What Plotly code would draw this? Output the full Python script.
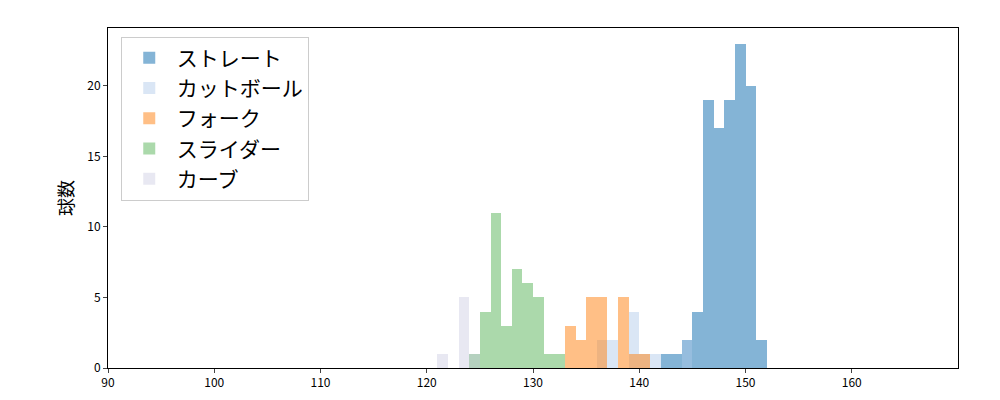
import plotly.graph_objects as go

straight_x = [142, 143, 144, 145, 146, 147, 148, 149, 150, 151]
straight_y = [1, 1, 2, 4, 19, 17, 19, 23, 20, 2]
cut_x = [136, 137, 139, 140, 141, 144]
cut_y = [2, 2, 4, 1, 1, 2]
fork_x = [133, 134, 135, 136, 138, 139, 140]
fork_y = [3, 2, 5, 5, 5, 1, 1]
slider_x = [124, 125, 126, 127, 128, 129, 130, 131, 132]
slider_y = [1, 4, 11, 3, 7, 6, 5, 1, 1]
curve_x = [121, 123, 124]
curve_y = [1, 5, 1]

series = [
    ("ストレート", straight_x, straight_y, "rgba(31,119,180,0.55)"),
    ("カットボール", cut_x, cut_y, "rgba(174,199,232,0.45)"),
    ("フォーク", fork_x, fork_y, "rgba(255,127,14,0.5)"),
    ("スライダー", slider_x, slider_y, "rgba(44,160,44,0.4)"),
    ("カーブ", curve_x, curve_y, "rgba(197,197,222,0.4)"),
]

fig = go.Figure()
for name, xs, ys, c in series:
    fig.add_trace(go.Bar(x=xs, y=ys, name=name, width=1, offset=0,
                         marker=dict(color=c, line=dict(width=0))))

fig.update_layout(
    width=1000, height=400, barmode="overlay", bargap=0,
    plot_bgcolor="white", paper_bgcolor="white",
    margin=dict(l=100, r=50, t=20, b=40),
    font=dict(family="Noto Sans CJK JP", color="black"),
    xaxis=dict(range=[90, 170], tickvals=[90, 100, 110, 120, 130, 140, 150, 160],
               showgrid=False, zeroline=False, showline=True, linecolor="black", mirror=True,
               ticks="outside", ticklen=4, tickfont=dict(size=12), automargin=False),
    yaxis=dict(range=[0, 24.1], tickvals=[0, 5, 10, 15, 20], showgrid=False, zeroline=False,
               showline=True, linecolor="black", mirror=True, ticks="outside", ticklen=4,
               tickfont=dict(size=12), automargin=False,
               title=dict(text="球数", font=dict(size=18), standoff=8)),
    legend=dict(x=0.015, y=0.975, xanchor="left", yanchor="top", bordercolor="#cccccc",
                borderwidth=1, font=dict(size=21), bgcolor="white", traceorder="normal",
                itemwidth=45),
)
fig.write_html("out.html")
